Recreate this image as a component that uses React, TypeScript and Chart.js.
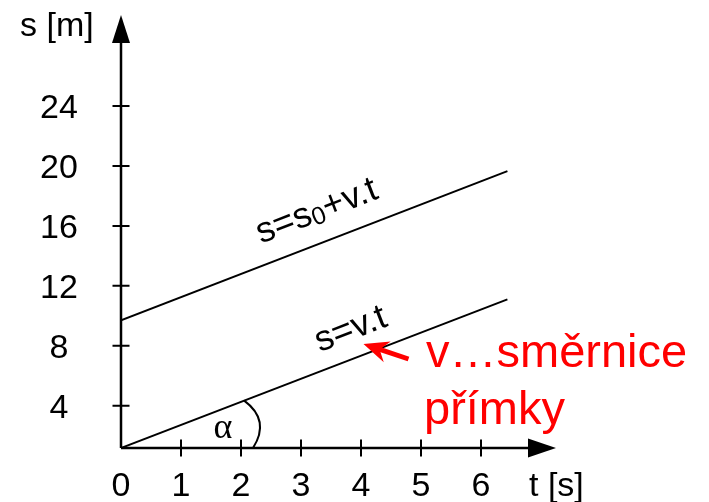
import React, { useEffect, useRef } from "react";
import { Chart, registerables } from "chart.js";

Chart.register(...registerables);

// ---- data ----
const T_TICKS = [0, 1, 2, 3, 4, 5, 6];
const S_TICKS = [4, 8, 12, 16, 20, 24];
const LINE_T = [0, 6.44];
const LINE_VT = [1.18, 11.1];
const LINE_S0VT = [9.7, 19.65];
const X_MIN = 0;
const X_MAX = 7.25;
const Y_MIN = 1.18;
const Y_MAX = 30.07;
const Y_TITLE = "s [m]";
const X_TITLE = "t [s]";
const LABEL_VT = "s=v.t";
const LABEL_S0VT_A = "s=s";
const LABEL_S0VT_SUB = "0";
const LABEL_S0VT_B = "+v.t";
const ANGLE_LABEL = "α";
const NOTE_1 = "v…směrnice";
const NOTE_2 = "přímky";

const SANS = '"Liberation Sans", Arial, sans-serif';
const SERIF = '"Liberation Serif", "Times New Roman", serif';

const overlay = {
  id: "overlay",
  afterDatasetsDraw(chart: any) {
    const ctx: CanvasRenderingContext2D = chart.ctx;
    const ca = chart.chartArea;
    const xs = chart.scales.x;
    const ys = chart.scales.y;
    const ox = xs.getPixelForValue(X_MIN);
    const oy = ys.getPixelForValue(Y_MIN);

    ctx.save();
    ctx.strokeStyle = "#000";
    ctx.fillStyle = "#000";
    ctx.lineCap = "butt";

    // axes
    ctx.lineWidth = 2.5;
    ctx.beginPath();
    ctx.moveTo(ox, oy);
    ctx.lineTo(ox, ca.top + 26);
    ctx.moveTo(ox, oy);
    ctx.lineTo(ca.right - 26, oy);
    ctx.stroke();

    // arrow heads
    ctx.beginPath();
    ctx.moveTo(ox, ca.top);
    ctx.lineTo(ox - 9, ca.top + 28);
    ctx.lineTo(ox + 9, ca.top + 28);
    ctx.closePath();
    ctx.fill();
    ctx.beginPath();
    ctx.moveTo(ca.right, oy);
    ctx.lineTo(ca.right - 28, oy - 9.5);
    ctx.lineTo(ca.right - 28, oy + 9.5);
    ctx.closePath();
    ctx.fill();

    // tick marks
    ctx.lineWidth = 2;
    ctx.beginPath();
    T_TICKS.forEach((t) => {
      if (t === 0) return;
      const x = xs.getPixelForValue(t);
      ctx.moveTo(x, oy - 8.5);
      ctx.lineTo(x, oy + 8.5);
    });
    S_TICKS.forEach((s) => {
      const y = ys.getPixelForValue(s);
      ctx.moveTo(ox - 8.5, y);
      ctx.lineTo(ox + 8.5, y);
    });
    ctx.stroke();

    // tick labels
    ctx.font = `34px ${SANS}`;
    ctx.textAlign = "center";
    ctx.textBaseline = "alphabetic";
    T_TICKS.forEach((t) => {
      ctx.fillText(String(t), xs.getPixelForValue(t), oy + 48);
    });
    S_TICKS.forEach((s) => {
      ctx.fillText(String(s), ox - 62, ys.getPixelForValue(s) + 12);
    });

    // axis titles
    ctx.font = `34px ${SANS}`;
    ctx.textAlign = "left";
    ctx.fillText(Y_TITLE, ox - 101, ca.top + 21);
    ctx.fillText(X_TITLE, ca.right - 27, oy + 48);

    // line labels along the lines
    const p0 = { x: xs.getPixelForValue(LINE_T[0]), y: ys.getPixelForValue(LINE_VT[0]) };
    const p1 = { x: xs.getPixelForValue(LINE_T[1]), y: ys.getPixelForValue(LINE_VT[1]) };
    const ang = Math.atan2(p1.y - p0.y, p1.x - p0.x);
    const nx = Math.sin(ang);
    const ny = -Math.cos(ang);
    const at = (vals: number[], tx: number, d: number) => {
      const f = (tx - LINE_T[0]) / (LINE_T[1] - LINE_T[0]);
      const v = vals[0] + f * (vals[1] - vals[0]);
      return { x: xs.getPixelForValue(tx) + d * nx, y: ys.getPixelForValue(v) + d * ny };
    };

    ctx.textAlign = "left";
    ctx.textBaseline = "alphabetic";
    let a = at(LINE_VT, 3.42, 18);
    ctx.save();
    ctx.translate(a.x, a.y);
    ctx.rotate(ang);
    ctx.font = `36px ${SANS}`;
    ctx.fillText(LABEL_VT, 0, 0);
    ctx.restore();

    a = at(LINE_S0VT, 2.46, 21);
    ctx.save();
    ctx.translate(a.x, a.y);
    ctx.rotate(ang);
    ctx.font = `36px ${SANS}`;
    let cx = 0;
    ctx.fillText(LABEL_S0VT_A, cx, 0);
    cx += ctx.measureText(LABEL_S0VT_A).width;
    ctx.font = `25px ${SANS}`;
    ctx.fillText(LABEL_S0VT_SUB, cx, 3);
    cx += ctx.measureText(LABEL_S0VT_SUB).width;
    ctx.font = `36px ${SANS}`;
    ctx.fillText(LABEL_S0VT_B, cx, 0);
    ctx.restore();

    // angle arc
    const r = 132;
    const ax = ox + r;
    const bx = ox + r * Math.cos(ang);
    const by = oy + r * Math.sin(ang);
    const midA = ang / 2;
    const rm = 141;
    const mx = ox + rm * Math.cos(midA);
    const my = oy + rm * Math.sin(midA);
    const cpx = 2 * mx - 0.5 * (ax + bx);
    const cpy = 2 * my - 0.5 * (oy + by);
    ctx.lineWidth = 2;
    ctx.beginPath();
    ctx.moveTo(ax, oy);
    ctx.quadraticCurveTo(cpx, cpy, bx, by);
    ctx.stroke();

    ctx.font = `36px ${SERIF}`;
    ctx.textAlign = "center";
    ctx.fillText(ANGLE_LABEL, ox + 102, oy - 10);

    // red annotation
    ctx.fillStyle = "#ff0000";
    ctx.strokeStyle = "#ff0000";
    ctx.font = `47px ${SANS}`;
    ctx.textAlign = "left";
    ctx.fillText(NOTE_1, 426, 367);
    ctx.fillText(NOTE_2, 424, 424);

    // red arrow
    const tip = { x: 363.5, y: 344 };
    const tail = { x: 408.5, y: 359 };
    const dx = tip.x - tail.x;
    const dy = tip.y - tail.y;
    const len = Math.hypot(dx, dy);
    const ux = dx / len;
    const uy = dy / len;
    const px = -uy;
    const py = ux;
    ctx.lineWidth = 5;
    ctx.beginPath();
    ctx.moveTo(tail.x, tail.y);
    ctx.lineTo(tip.x - 14 * ux, tip.y - 14 * uy);
    ctx.stroke();
    ctx.beginPath();
    ctx.moveTo(tip.x, tip.y);
    ctx.lineTo(tip.x - 25 * ux + 11 * px, tip.y - 25 * uy + 11 * py);
    ctx.lineTo(tip.x - 17 * ux, tip.y - 17 * uy);
    ctx.lineTo(tip.x - 25 * ux - 11 * px, tip.y - 25 * uy - 11 * py);
    ctx.closePath();
    ctx.fill();

    ctx.restore();
  },
};

export default function App() {
  const ref = useRef<HTMLCanvasElement>(null);
  useEffect(() => {
    document.body.style.margin = "0";
    const canvas = ref.current;
    if (!canvas) return;
    const mk = (ys: number[]) => LINE_T.map((t, i) => ({ x: t, y: ys[i] }));
    const chart = new Chart(canvas, {
      type: "scatter",
      data: {
        datasets: [
          {
            data: mk(LINE_VT),
            showLine: true,
            borderColor: "#000",
            borderWidth: 2,
            pointRadius: 0,
            fill: false,
          },
          {
            data: mk(LINE_S0VT),
            showLine: true,
            borderColor: "#000",
            borderWidth: 2,
            pointRadius: 0,
            fill: false,
          },
        ],
      },
      options: {
        responsive: false,
        animation: false,
        devicePixelRatio: 1,
        layout: { padding: { left: 121, right: 153, top: 15, bottom: 54 } },
        plugins: { legend: { display: false }, tooltip: { enabled: false } },
        scales: {
          x: { type: "linear", display: false, min: X_MIN, max: X_MAX },
          y: { type: "linear", display: false, min: Y_MIN, max: Y_MAX },
        },
      },
      plugins: [overlay],
    });
    return () => chart.destroy();
  }, []);
  return (
    <div style={{ width: 709, height: 502, background: "#fff" }}>
      <canvas ref={ref} width={709} height={502} style={{ display: "block" }} />
    </div>
  );
}
